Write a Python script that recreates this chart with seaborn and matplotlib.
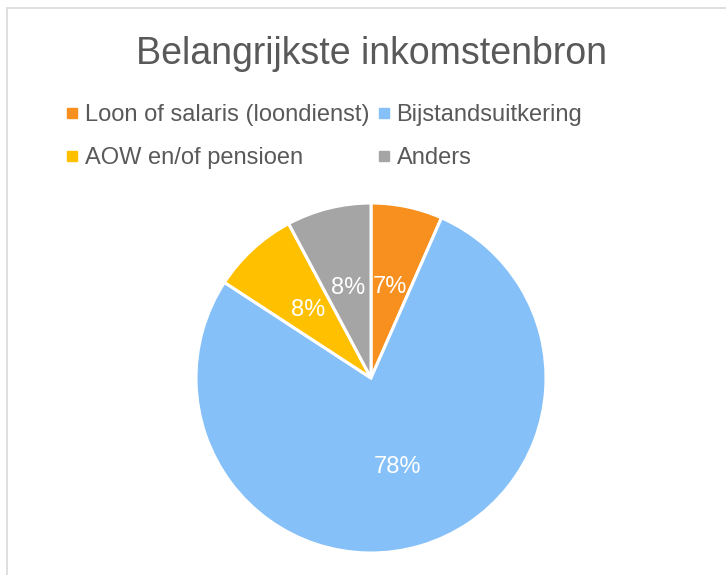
import matplotlib
matplotlib.use("Agg")
import matplotlib.pyplot as plt
from matplotlib.lines import Line2D
from matplotlib.patches import Rectangle
import seaborn as sns

# data
labels = ["Loon of salaris (loondienst)", "Bijstandsuitkering", "AOW en/of pensioen", "Anders"]
shares = [6.6, 77.6, 8.0, 7.8]
colors = ["#F7901E", "#85C0F9", "#FFC000", "#A5A5A5"]

sns.set_theme(style="white")
plt.rcParams["font.family"] = ["Liberation Sans", "DejaVu Sans"]

W, H = 726, 575
fig = plt.figure(figsize=(W / 100, H / 100), dpi=100)

# chart frame (only left and top edges visible)
fig.add_artist(Rectangle((7 / W, -0.1), 1.2, 1.1 - 8 / H, transform=fig.transFigure,
                         fill=False, edgecolor="#d9d9d9", linewidth=1.2))

cx, cy, r = 371, 378, 175
ax = fig.add_axes([(cx - r) / W, (H - cy - r) / H, 2 * r / W, 2 * r / H])
wedges, _, autotexts = ax.pie(
    shares, colors=colors, startangle=90, counterclock=False,
    autopct=lambda p: f"{p:.0f}%", pctdistance=0.53,
    wedgeprops=dict(edgecolor="white", linewidth=2.2),
    textprops=dict(color="white", fontsize=17),
)
ax.set_xlim(-1, 1)
ax.set_ylim(-1, 1)
ax.set_aspect("equal")
ax.axis("off")

fig.text(cx / W, 1 - 54 / H, "Belangrijkste inkomstenbron", ha="center", va="center",
         fontsize=27, color="#595959")

# legend is filled row by row in the reference
order = [0, 2, 1, 3]
handles = [Line2D([], [], marker="s", linestyle="", markersize=7, color=colors[i]) for i in order]
fig.legend(handles, [labels[i] for i in order], ncol=2, loc="upper left",
           bbox_to_anchor=(53 / W, 1 - 92 / H), borderpad=0,
           frameon=False, fontsize=17, labelcolor="#595959", handlelength=0.6,
           handletextpad=0.25, columnspacing=0.3, labelspacing=0.9)

fig.savefig("out.png", dpi=100)
